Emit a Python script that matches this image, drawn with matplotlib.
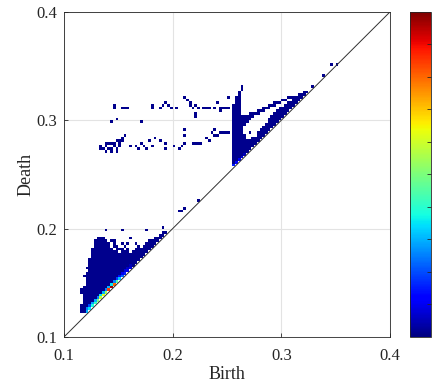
import numpy as np
import matplotlib.pyplot as plt

plt.rcParams["font.family"] = ["Liberation Serif", "DejaVu Serif"]

# ── DATA ──────────────────────────────────────────────────────────────────────
BIN = 0.0025
LO, HI = 0.1, 0.4

# filled runs of cells: (death row, birth start, birth end)
LOW_SPANS = [
    (0.1225, 0.115, 0.1225), (0.125, 0.115, 0.125), (0.1275, 0.115, 0.1275),
    (0.13, 0.1175, 0.13), (0.1325, 0.1175, 0.1325), (0.135, 0.1175, 0.135),
    (0.1375, 0.1175, 0.1375), (0.14, 0.115, 0.14), (0.1425, 0.115, 0.1425),
    (0.145, 0.1175, 0.145), (0.1475, 0.12, 0.1475), (0.15, 0.12, 0.15),
    (0.1525, 0.12, 0.1525), (0.155, 0.1175, 0.155), (0.1575, 0.12, 0.1575),
    (0.16, 0.1225, 0.16), (0.1625, 0.12, 0.1625), (0.165, 0.1225, 0.165),
    (0.1675, 0.1225, 0.1675), (0.17, 0.1225, 0.17), (0.1725, 0.125, 0.1725),
    (0.175, 0.125, 0.175),
    (0.1775, 0.125, 0.15), (0.1775, 0.1525, 0.16), (0.1775, 0.1625, 0.1775),
    (0.18, 0.125, 0.145), (0.18, 0.1475, 0.155), (0.18, 0.1575, 0.16),
    (0.18, 0.165, 0.18),
    (0.1825, 0.1275, 0.1425), (0.1825, 0.145, 0.15), (0.1825, 0.155, 0.1575),
    (0.1825, 0.1675, 0.17), (0.1825, 0.1725, 0.1825),
    (0.185, 0.1275, 0.1425), (0.185, 0.145, 0.1475), (0.185, 0.1525, 0.155),
    (0.185, 0.175, 0.185),
    (0.1875, 0.1275, 0.14), (0.1875, 0.1425, 0.145), (0.1875, 0.1775, 0.1875),
    (0.19, 0.13, 0.1375), (0.19, 0.1825, 0.19),
    (0.1925, 0.1875, 0.1925), (0.195, 0.19, 0.195),
]

HIGH_SPANS = [
    (0.2575, 0.255, 0.2575), (0.26, 0.255, 0.26), (0.2625, 0.255, 0.2625),
    (0.265, 0.255, 0.265), (0.2675, 0.255, 0.2675), (0.27, 0.255, 0.27),
    (0.2725, 0.255, 0.2725), (0.275, 0.255, 0.275), (0.2775, 0.255, 0.2775),
    (0.28, 0.255, 0.28),
    (0.2825, 0.255, 0.2675), (0.2825, 0.2725, 0.2825),
    (0.285, 0.255, 0.2675), (0.285, 0.2775, 0.285),
    (0.2875, 0.255, 0.265), (0.2875, 0.27, 0.2725), (0.2875, 0.2775, 0.2875),
    (0.29, 0.255, 0.265), (0.29, 0.28, 0.29),
    (0.2925, 0.255, 0.265), (0.2925, 0.2825, 0.2925),
    (0.295, 0.255, 0.2675), (0.295, 0.285, 0.295),
    (0.2975, 0.255, 0.27), (0.2975, 0.2875, 0.2975),
    (0.3, 0.255, 0.2725), (0.3, 0.2875, 0.3),
    (0.3025, 0.255, 0.275), (0.3025, 0.29, 0.3025),
    (0.305, 0.255, 0.2625), (0.305, 0.27, 0.28), (0.305, 0.2925, 0.305),
    (0.3075, 0.255, 0.2625), (0.3075, 0.2775, 0.285), (0.3075, 0.295, 0.3075),
    (0.31, 0.255, 0.2625), (0.31, 0.2825, 0.29), (0.31, 0.2975, 0.31),
    (0.3125, 0.255, 0.2625), (0.3125, 0.2875, 0.295), (0.3125, 0.3025, 0.3125),
    (0.315, 0.2575, 0.2625), (0.315, 0.2925, 0.3), (0.315, 0.305, 0.315),
    (0.3175, 0.2575, 0.2625), (0.3175, 0.3, 0.305), (0.3175, 0.31, 0.3175),
    (0.32, 0.2575, 0.2625), (0.32, 0.305, 0.32),
    (0.3225, 0.26, 0.2625), (0.3225, 0.315, 0.3225),
    (0.325, 0.26, 0.2625), (0.325, 0.32, 0.325),
    (0.3275, 0.2625, 0.265),
]

# isolated cells (birth, death)
SCATTER_CELLS = [
    # upper band, death ~0.30-0.32
    (0.1455, 0.3135), (0.1455, 0.3105), (0.153, 0.312), (0.1555, 0.312),
    (0.158, 0.312), (0.144, 0.2995), (0.148, 0.302), (0.172, 0.2995),
    (0.181, 0.314), (0.1825, 0.311), (0.1885, 0.3125), (0.1905, 0.315),
    (0.1945, 0.3165), (0.1965, 0.3135), (0.198, 0.3115), (0.2025, 0.311),
    (0.205, 0.311), (0.2125, 0.3225), (0.214, 0.3195), (0.216, 0.3175),
    (0.2165, 0.314), (0.219, 0.3115), (0.2215, 0.3145), (0.225, 0.311),
    (0.222, 0.307), (0.222, 0.3045), (0.2285, 0.311), (0.231, 0.311),
    (0.234, 0.311), (0.2415, 0.316), (0.24, 0.311), (0.2435, 0.311),
    (0.2465, 0.311), (0.2495, 0.3115), (0.252, 0.3115), (0.245, 0.3095),
    # lower band, death ~0.27-0.29
    (0.1335, 0.2755), (0.136, 0.274), (0.1385, 0.2765), (0.1385, 0.279),
    (0.141, 0.2745), (0.1435, 0.278), (0.1445, 0.2705), (0.146, 0.2755),
    (0.148, 0.2705), (0.1485, 0.28), (0.1505, 0.2765), (0.151, 0.2825),
    (0.153, 0.2845), (0.1555, 0.2865), (0.1605, 0.275), (0.1655, 0.277),
    (0.1685, 0.274), (0.172, 0.279), (0.1745, 0.2765), (0.1775, 0.274),
    (0.179, 0.281), (0.182, 0.277), (0.185, 0.2845), (0.188, 0.281),
    (0.1945, 0.2795), (0.194, 0.2735), (0.2, 0.2755), (0.2055, 0.274),
    (0.2095, 0.2755), (0.211, 0.2795), (0.2105, 0.2875), (0.2105, 0.291),
    (0.219, 0.279), (0.2215, 0.2775), (0.2245, 0.2775), (0.2275, 0.279),
    (0.2305, 0.283), (0.233, 0.281), (0.2355, 0.2895), (0.239, 0.2855),
    (0.242, 0.2855), (0.239, 0.2925), (0.2445, 0.2885), (0.247, 0.2885),
    (0.25, 0.2885), (0.2525, 0.2885),
    (0.1335, 0.2735), (0.1385, 0.2715), (0.141, 0.2775), (0.1435, 0.2735),
    (0.146, 0.2795), (0.151, 0.279), (0.1535, 0.2815), (0.1485, 0.2735),
    # around the clusters and along the diagonal
    (0.139, 0.1985), (0.1545, 0.1985), (0.1765, 0.1985), (0.191, 0.2005),
    (0.1475, 0.19), (0.16, 0.1855), (0.1665, 0.1875), (0.1615, 0.1905),
    (0.2065, 0.2155), (0.209, 0.2155), (0.2115, 0.218), (0.2245, 0.2275),
    (0.2505, 0.3205), (0.2525, 0.3225), (0.2635, 0.3305),
    (0.3285, 0.3315), (0.3385, 0.3415), (0.3475, 0.3505), (0.3505, 0.3525),
]

BODY_LEVEL = 0.015

# density on the first two rows just above the diagonal
DIAG_B = [0.12, 0.1225, 0.125, 0.1275, 0.13, 0.1325, 0.135, 0.1375,
          0.14, 0.1425, 0.145, 0.1475, 0.15, 0.1525, 0.155, 0.1575, 0.16]
DIAG_V = [0.3, 0.35, 0.38, 0.42, 0.5, 0.58, 0.62, 0.55,
          0.85, 0.97, 0.8, 0.45, 0.32, 0.22, 0.15, 0.1, 0.08]
DIAG2_V = [0.25, 0.2, 0.28, 0.3, 0.25, 0.35, 0.3, 0.25,
           0.3, 0.35, 0.25, 0.18, 0.14, 0.1, 0.08, 0.06, 0.05]

HIGH_DIAG_B = [0.255, 0.2575, 0.26, 0.2625, 0.265]
HIGH_DIAG_V = [0.15, 0.12, 0.1, 0.07, 0.05]

# ── GRID OF COUNTS ────────────────────────────────────────────────────────────
n = int(round((HI - LO) / BIN))
edges = np.linspace(LO, HI, n + 1)
counts = np.full((n, n), np.nan)

def cell(v):
    return int(round((v - LO) / BIN))

for d, b0, b1 in LOW_SPANS + HIGH_SPANS:
    counts[cell(d), cell(b0):cell(b1)] = BODY_LEVEL
for b, d in SCATTER_CELLS:
    counts[int((d - LO) // BIN), int((b - LO) // BIN)] = BODY_LEVEL
for b, v1, v2 in zip(DIAG_B, DIAG_V, DIAG2_V):
    counts[cell(b) + 1, cell(b)] = v1
    counts[cell(b) + 2, cell(b)] = v2
for b, v in zip(HIGH_DIAG_B, HIGH_DIAG_V):
    counts[cell(b) + 1, cell(b)] = v

# ── PLOT ──────────────────────────────────────────────────────────────────────
fig = plt.figure(figsize=(4.35, 3.84), dpi=100)
ax = fig.add_axes([0.147, 0.1224, 0.7494, 0.8464])
mesh = ax.pcolormesh(edges, edges, np.ma.masked_invalid(counts),
                     cmap="jet", vmin=0, vmax=1, zorder=2)
ax.plot([LO, HI], [LO, HI], color="#303030", linewidth=0.7, zorder=3)

ax.set_xlim(LO, HI)
ax.set_ylim(LO, HI)
ticks = [0.1, 0.2, 0.3, 0.4]
ax.set_xticks(ticks)
ax.set_yticks(ticks)
ax.set_xticklabels([f"{t:.1f}" for t in ticks])
ax.set_yticklabels([f"{t:.1f}" for t in ticks])
ax.tick_params(direction="in", length=3, width=0.6, color="#262626",
               labelsize=12, labelcolor="#262626", top=False, right=False)
ax.tick_params(axis="x", pad=8)
ax.tick_params(axis="y", pad=5)
ax.grid(True, color="#e3e3e3", linewidth=0.8)
ax.set_axisbelow(True)
for s in ax.spines.values():
    s.set_color("#262626")
    s.set_linewidth(0.6)
ax.set_xlabel("Birth", fontsize=13, color="#262626", labelpad=1.5)
ax.set_ylabel("Death", fontsize=13, color="#262626", labelpad=1)

cax = fig.add_axes([0.9425, 0.1224, 0.0483, 0.8464])
cb = fig.colorbar(mesh, cax=cax)
cb.set_ticks(np.arange(0.1, 0.95, 0.1))
cax.tick_params(direction="in", length=3, width=0.6, color="#262626",
                labelright=False, right=True)
cb.outline.set_edgecolor("#262626")
cb.outline.set_linewidth(0.6)

fig.savefig("out.png", dpi=100)
